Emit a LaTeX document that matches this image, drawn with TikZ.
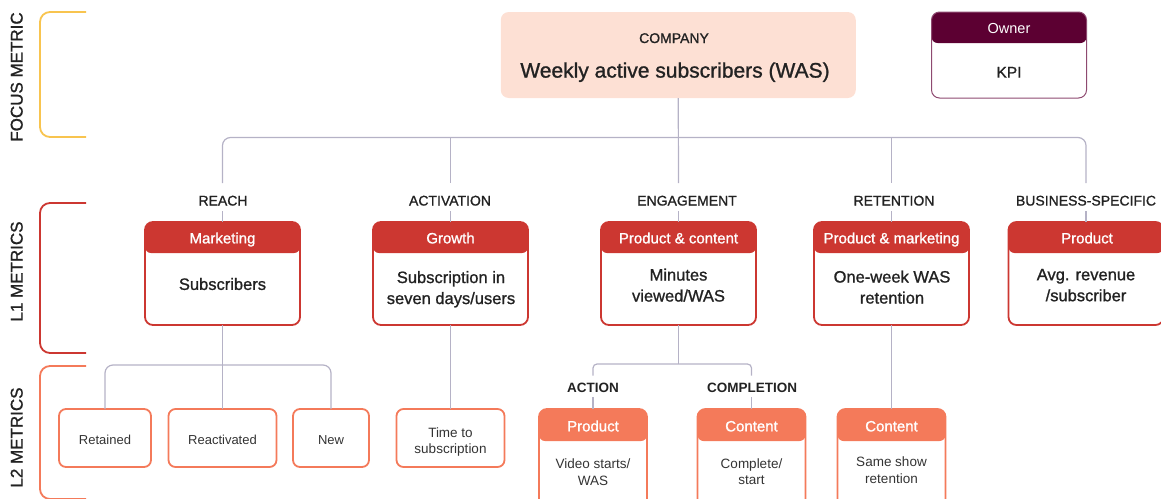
\documentclass[tikz,border=0pt]{standalone}
\usepackage{fontspec}
\setmainfont{Liberation Sans}
\newfontfamily\medfont[FakeBold=1.1]{Liberation Sans}
\usetikzlibrary{calc}
\definecolor{txt}{HTML}{222222}
\definecolor{txtl}{HTML}{333333}
\definecolor{connc}{HTML}{B5B2C6}
\definecolor{focusc}{HTML}{F8C44F}
\definecolor{lonered}{HTML}{CC3731}
\definecolor{ltwocoral}{HTML}{F47A5A}
\definecolor{maroonc}{HTML}{5C0032}
\definecolor{maroonline}{HTML}{8E4A70}
\definecolor{compfill}{HTML}{FDE0D4}
\begin{document}
\begin{tikzpicture}[x=1pt,y=-1pt,
  every node/.style={inner sep=0pt,outer sep=0pt},
  tx/.style={text=txt,align=center,execute at begin node=\strut,execute at end node=\strut},
  side/.style={tx,rotate=90,font=\fontsize{17}{20}\selectfont\medfont},
  cat/.style={tx,font=\fontsize{14}{17}\selectfont\medfont},
  subcat/.style={tx,font=\fontsize{13.5}{16}\selectfont\bfseries},
  conn/.style={draw=connc,line width=1.2pt},
  bracket/.style={line width=1.8pt,rounded corners=10pt},
  lonebox/.style={draw=lonered,line width=1.8pt,rounded corners=8pt,minimum width=155pt,minimum height=103pt,
    path picture={\fill[lonered,rounded corners=6pt] ([yshift=8pt]path picture bounding box.north west) rectangle ([yshift=-31pt]path picture bounding box.north east);}},
  lonehead/.style={tx,text=white,font=\fontsize{15}{18}\selectfont\medfont},
  lonebody/.style={tx,font=\fontsize{16.5}{21}\selectfont\medfont},
  ltwobox/.style={draw=ltwocoral,line width=1.8pt,rounded corners=7pt,minimum height=58pt},
  ltwotext/.style={tx,text=txtl,font=\fontsize{13.5}{16}\selectfont},
  ltwohbox/.style={draw=ltwocoral,line width=1.8pt,rounded corners=8pt,minimum width=108pt,minimum height=111pt,
    path picture={\fill[ltwocoral,rounded corners=6pt] ([yshift=8pt]path picture bounding box.north west) rectangle ([yshift=-32pt]path picture bounding box.north east);}},
  ltwohead/.style={tx,text=white,font=\fontsize{15}{18}\selectfont\medfont},
  ltwobody/.style={tx,text=txtl,font=\fontsize{13.5}{16.5}\selectfont},
]
\useasboundingbox (0,0) rectangle (1161,498);
\clip (0,0) rectangle (1161,498);

% side brackets and labels
\draw[bracket,focusc] (86,12) -- (40,12) -- (40,137) -- (86,137);
\draw[bracket,lonered] (86,203) -- (40,203) -- (40,353) -- (86,353);
\draw[bracket,ltwocoral] (86,366) -- (40,366) -- (40,499) -- (86,499);
\node[side] (lfocus) at (18.6,77) {FOCUS METRIC};
\node[side] (lone) at (18.6,271.5) {L1 METRICS};
\node[side] (ltwo) at (18.6,437.5) {L2 METRICS};

% company
\node[fill=compfill,rounded corners=8pt,minimum width=355pt,minimum height=86pt] (company) at (678.25,55) {};
\node[tx,font=\fontsize{14}{17}\selectfont\medfont] (companyt) at (674,39.6) {COMPANY};
\node[tx,font=\fontsize{21}{25}\selectfont\medfont] (wast) at (675,72.6) {Weekly active subscribers (WAS)};

% legend
\node[draw=maroonline,line width=1pt,rounded corners=8pt,minimum width=155pt,minimum height=86pt,
  path picture={\fill[maroonc,rounded corners=6pt] ([yshift=8pt]path picture bounding box.north west) rectangle ([yshift=-31pt]path picture bounding box.north east);}] (kpi) at (1009,55) {};
\node[tx,text=white,font=\fontsize{14.5}{17}\selectfont] (ownert) at (1009,29.8) {Owner};
\node[tx,font=\fontsize{15.5}{18}\selectfont\medfont] (kpit) at (1009,74) {KPI};

% categories
\node[cat] (reach) at (223,202.1) {REACH};
\node[cat] (activation) at (450,202.1) {ACTIVATION};
\node[cat] (engagement) at (687,202.1) {ENGAGEMENT};
\node[cat] (retention) at (894,202.1) {RETENTION};
\node[cat] (business) at (1086,202.1) {BUSINESS-SPECIFIC};

% L1 boxes
\node[lonebox] (mkt) at (222.5,273.5) {};
\node[lonebox] (growth) at (450.5,273.5) {};
\node[lonebox] (pc) at (678.5,273.5) {};
\node[lonebox] (pm) at (891.5,273.5) {};
\node[lonebox] (biz) at (1086,273.5) {};
\node[lonehead] (mkth) at (222.5,239.8) {Marketing};
\node[lonehead] (growthh) at (450.5,239.8) {Growth};
\node[lonehead] (pch) at (678.5,239.8) {Product \& content};
\node[lonehead] (pmh) at (891.5,239.8) {Product \& marketing};
\node[lonehead] (bizh) at (1087,239.8) {Product};
\node[lonebody] (mktb) at (222.5,285.7) {Subscribers};
\node[lonebody] (growthb) at (451,290.7) {Subscription in\\seven days/users};
\node[lonebody] (pcb) at (678.5,288.2) {Minutes\\viewed/WAS};
\node[lonebody] (pmb) at (892,290.2) {One-week WAS\\retention};
\node[lonebody] (bizb) at (1086,288.2) {Avg. revenue\\/subscriber};

% L2 boxes
\node[ltwobox,minimum width=92pt] (ret) at (105,438) {};
\node[ltwobox,minimum width=108pt] (reac) at (222.5,438) {};
\node[ltwobox,minimum width=76pt] (newb) at (331,438) {};
\node[ltwobox,minimum width=108pt] (tts) at (450.5,438) {};
\node[ltwotext,font=\fontsize{13}{16}\selectfont] (rett) at (105,441) {Retained};
\node[ltwotext,font=\fontsize{13}{16}\selectfont] (react) at (222.5,441) {Reactivated};
\node[ltwotext,font=\fontsize{13}{16}\selectfont] (newt) at (331,441) {New};
\node[ltwotext] (ttst) at (450.5,442.7) {Time to\\subscription};

\node[subcat] (action) at (593,389.2) {ACTION};
\node[subcat] (completion) at (752,389.2) {COMPLETION};

\node[ltwohbox] (prod) at (593,464.5) {};
\node[ltwohbox] (cont) at (751.5,464.5) {};
\node[ltwohbox] (conttwo) at (891.5,464.5) {};
\node[ltwohead] (prodh) at (593,427.8) {Product};
\node[ltwohead] (conth) at (751.5,427.8) {Content};
\node[ltwohead] (conttwoh) at (891.5,427.8) {Content};
\node[ltwobody] (prodb) at (593,474.6) {Video starts/\\WAS};
\node[ltwobody] (contb) at (751.5,474) {Complete/\\start};
\node[ltwobody] (conttwob) at (891.5,472.6) {Same show\\retention};

% connectors: company to L1
\coordinate (bus) at (678,137.5);
\coordinate (ctop) at (0,183);
\coordinate (cbot) at (0,211);
\draw[conn] (company.south) -- (pc.north |- ctop);
\draw[conn,rounded corners=8pt] (mkt.north |- ctop) |- (bus) -| (biz.north |- ctop);
\draw[conn] (growth.north |- bus) -- (growth.north |- ctop);
\draw[conn] (pm.north |- bus) -- (pm.north |- ctop);
\foreach \b in {mkt,growth,pc,pm,biz} \draw[conn] (\b.north |- cbot) -- (\b.north);

% connectors: L1 to L2
\draw[conn] (mkt.south) -- (reac.north);
\draw[conn,rounded corners=8pt] (ret.north) |- ($(mkt.south)+(0,40)$) -| (newb.north);
\draw[conn] (growth.south) -- (tts.north);
\draw[conn] (pc.south) -- ($(pc.south)+(0,39)$);
\draw[conn,rounded corners=4pt] ([yshift=5.5pt]action.north) |- ($(pc.south)+(0,39)$) -| ([yshift=5.5pt]completion.north -| cont.north);
\draw[conn] (action.south) -- (prod.north);
\draw[conn] (completion.south -| cont.north) -- (cont.north);
\draw[conn] (pm.south) -- (conttwo.north);
\end{tikzpicture}
\end{document}
